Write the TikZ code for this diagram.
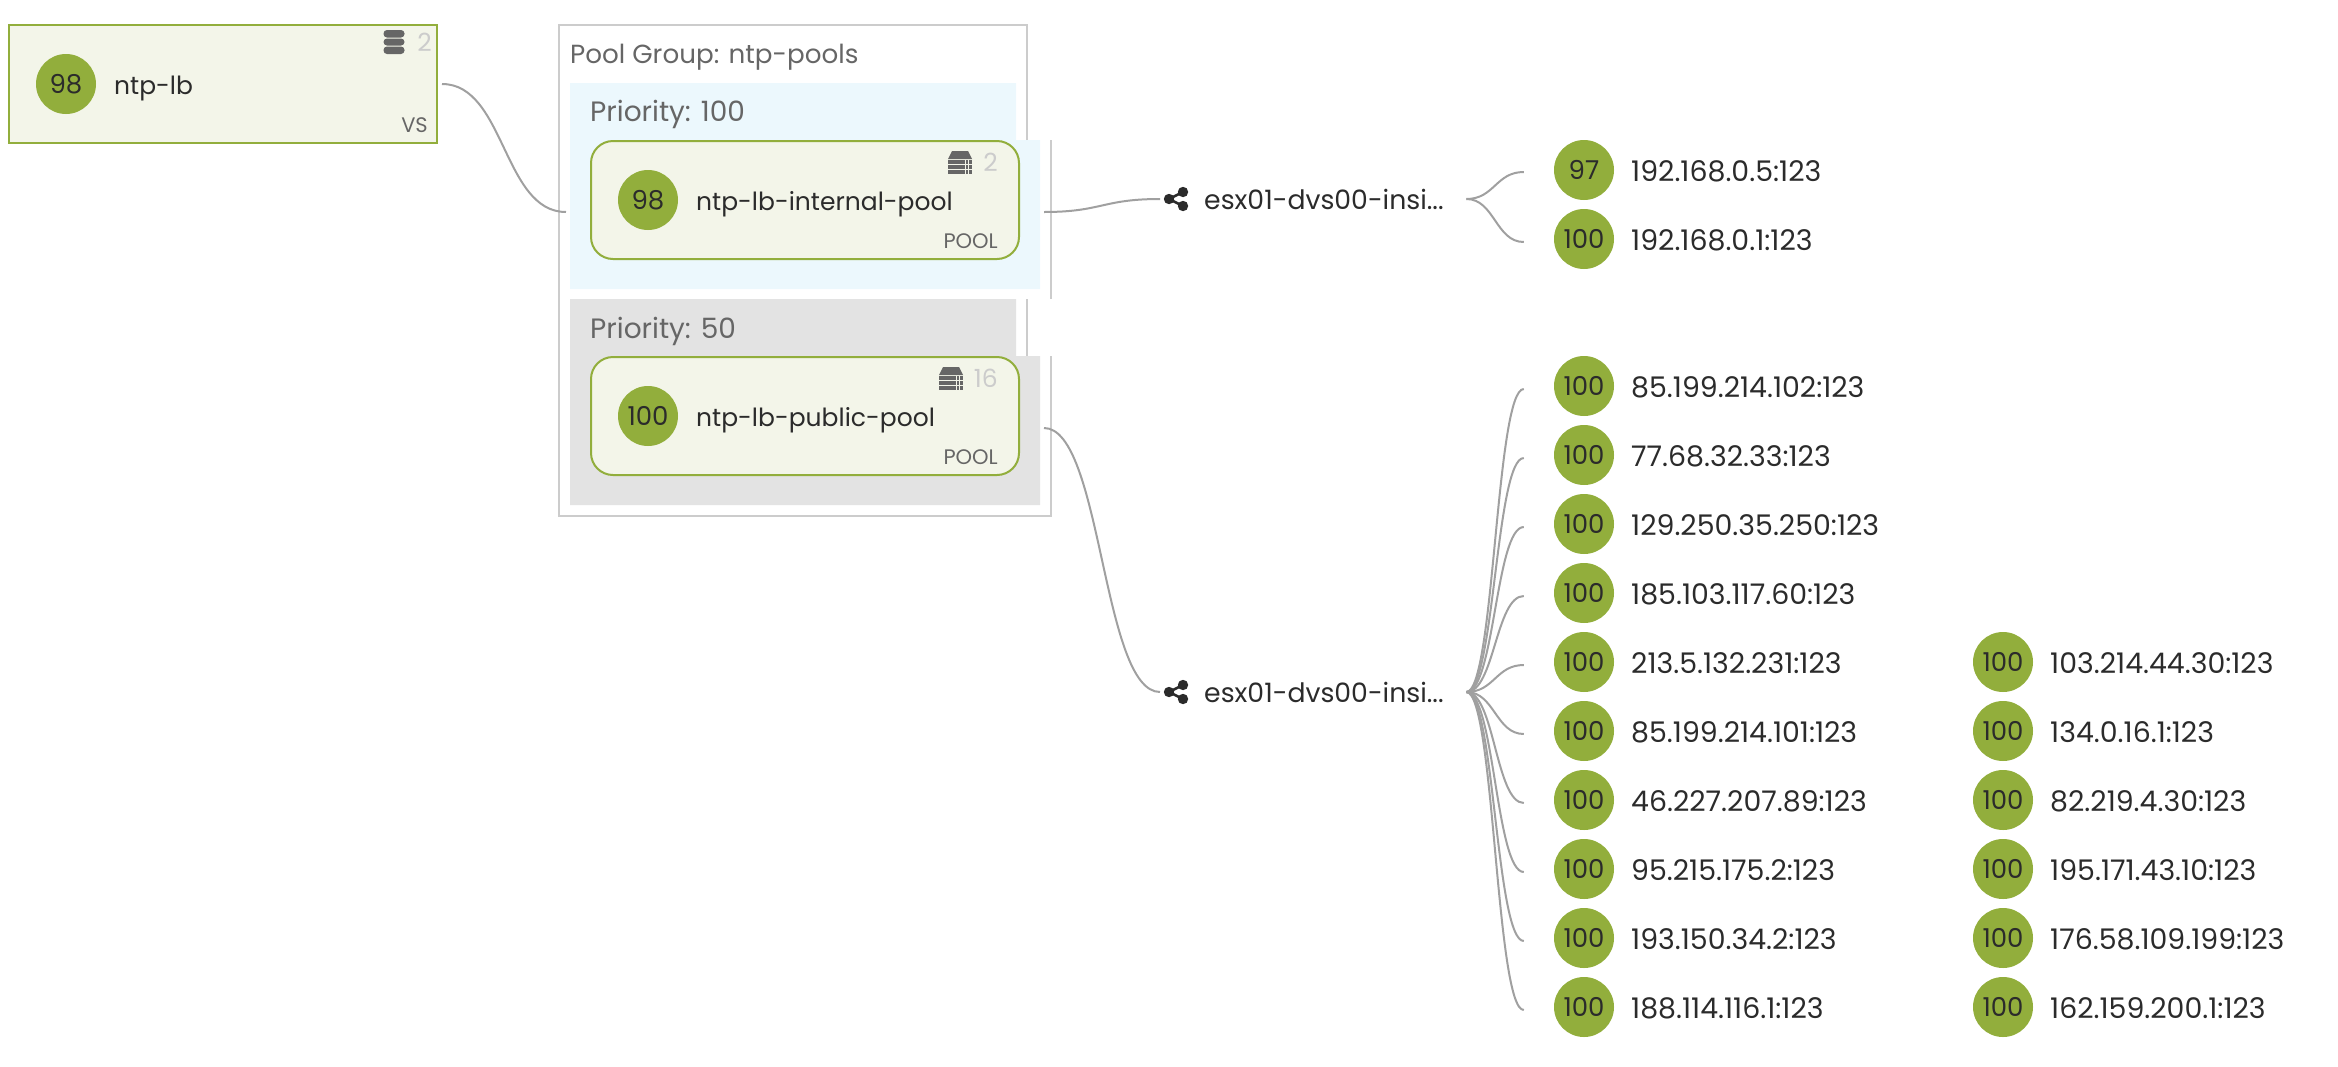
\documentclass[tikz,border=0pt]{standalone}
\usepackage{fontspec}
\setmainfont{Poppins}
\definecolor{healthgreen}{HTML}{92AE3C}
\definecolor{cardfill}{HTML}{F3F5E9}
\definecolor{bandblue}{HTML}{ECF8FD}
\definecolor{bandgray}{HTML}{E3E3E3}
\definecolor{framegray}{HTML}{CCCCCC}
\definecolor{linkgray}{HTML}{A0A0A0}
\definecolor{textdark}{HTML}{2B2B2B}
\definecolor{textgray}{HTML}{666666}

\begin{document}
\begin{tikzpicture}[
  x=1pt,
  y=-1pt,
  every node/.style={inner sep=0pt,text=textdark},
  health node/.style={circle,fill=healthgreen,minimum size=60pt,font=\fontsize{26}{28}\selectfont},
  vs node/.style={rectangle,draw=healthgreen,line width=2pt,fill=cardfill,minimum width=428pt,minimum height=118pt},
  pool node/.style={vs node,rounded corners=22pt},
  name label/.style={anchor=base west,font=\fontsize{25}{28}\selectfont},
  ip label/.style={anchor=base west,font=\fontsize{28.4}{30}\selectfont},
  net label/.style={anchor=west,text width=262pt,font=\fontsize{26.7}{28}\selectfont},
  kind label/.style={anchor=base east,text=textgray,font=\fontsize{21}{23}\selectfont},
  count label/.style={anchor=base east,text=framegray,font=\fontsize{25}{28}\selectfont},
  group label/.style={anchor=base west,text=textgray,font=\fontsize{26.2}{28}\selectfont},
  prio label/.style={anchor=base west,text=textgray,font=\fontsize{28}{30}\selectfont},
  frame line/.style={draw=framegray,line width=2pt},
  link line/.style={draw=linkgray,line width=2pt},
  link/.style={out=0,in=180,distance=#1},
  db icon/.pic={
    \fill[textgray,rounded corners=3.5pt] (-10.5,-12) rectangle (10.5,-4.5);
    \fill[textgray,rounded corners=3.5pt] (-10.5,-3.5) rectangle (10.5,3.5);
    \fill[textgray,rounded corners=3.5pt] (-10.5,4.5) rectangle (10.5,12);
  },
  rack icon/.pic={
    \fill[textgray] (-8,-11) -- (8,-11) -- (12,-3) -- (-12,-3) -- cycle;
    \fill[textgray] (-12,-2) rectangle (12,2);
    \fill[textgray] (-12,3) rectangle (12,7);
    \fill[textgray] (-12,8) rectangle (12,12);
    \draw[cardfill,line width=0.7pt] (5,-2) -- (5,12);
    \draw[cardfill,line width=0.7pt] (8,-2) -- (8,12);
  },
  share icon/.pic={
    \draw[textdark,line width=2.6pt] (7,-7) -- (-7,0) -- (7,7);
    \fill[textdark] (-7,0) circle (5.2pt);
    \fill[textdark] (7,-7) circle (5.2pt);
    \fill[textdark] (7,7) circle (5.2pt);
  },
]
\useasboundingbox (0,0) rectangle (2338,1066);

\fill[bandblue] (570,83) -- (1016,83) -- (1016,140) -- (1040,140) -- (1040,289) -- (570,289) -- cycle;
\fill[bandgray] (570,299) -- (1016,299) -- (1016,356) -- (1040,356) -- (1040,505) -- (570,505) -- cycle;
\draw[frame line] (1027,140) -- (1027,25) -- (559,25) -- (559,516) -- (1051,516) -- (1051,356);
\draw[frame line] (1051,140) -- (1051,299);
\draw[frame line] (1027,299) -- (1027,356);

\node[group label] (grouptitle) at (570,63) {Pool Group: ntp-pools};
\node[prio label] (prio1) at (590,121) {Priority: 100};
\node[prio label] (prio2) at (590,338) {Priority: 50};

\node[vs node] (vs) at (223,84) {};
\node[health node] (vshealth) at (66,84) {98};
\node[name label] (vsname) at (114,94) {ntp-lb};
\node[kind label] (vskind) at (428,132) {VS};
\node[count label] (vscount) at (432,51) {2};
\pic at (394,42) {db icon};

\node[pool node] (intpool) at (805,200) {};
\node[health node] (inthealth) at (648,200) {98};
\node[name label] (intname) at (696,210) {ntp-lb-internal-pool};
\node[kind label] (intkind) at (998,248) {POOL};
\node[count label] (intcount) at (998,171) {2};
\pic at (960,162) {rack icon};

\node[pool node] (pubpool) at (805,416) {};
\node[health node] (pubhealth) at (648,416) {100};
\node[name label] (pubname) at (696,426) {ntp-lb-public-pool};
\node[kind label] (pubkind) at (998,464) {POOL};
\node[count label] (pubcount) at (998,387) {16};
\pic at (951,378) {rack icon};

\pic at (1176,199) {share icon};
\node[net label] (net1) at (1204,199) {esx01-dvs00-insi...};
\pic at (1176,692) {share icon};
\node[net label] (net2) at (1204,692) {esx01-dvs00-insi...};

\node[health node] (a1) at (1584,170) {97};
\node[ip label] (a1ip) at (1631,181) {192.168.0.5:123};
\node[health node] (a2) at (1584,239) {100};
\node[ip label] (a2ip) at (1631,250) {192.168.0.1:123};

\node[health node] (b1) at (1584,386) {100};
\node[ip label] (b1ip) at (1631,397) {85.199.214.102:123};
\node[health node] (b2) at (1584,455) {100};
\node[ip label] (b2ip) at (1631,466) {77.68.32.33:123};
\node[health node] (b3) at (1584,524) {100};
\node[ip label] (b3ip) at (1631,535) {129.250.35.250:123};
\node[health node] (b4) at (1584,593) {100};
\node[ip label] (b4ip) at (1631,604) {185.103.117.60:123};
\node[health node] (b5) at (1584,662) {100};
\node[ip label] (b5ip) at (1631,673) {213.5.132.231:123};
\node[health node] (b6) at (1584,731) {100};
\node[ip label] (b6ip) at (1631,742) {85.199.214.101:123};
\node[health node] (b7) at (1584,800) {100};
\node[ip label] (b7ip) at (1631,811) {46.227.207.89:123};
\node[health node] (b8) at (1584,869) {100};
\node[ip label] (b8ip) at (1631,880) {95.215.175.2:123};
\node[health node] (b9) at (1584,938) {100};
\node[ip label] (b9ip) at (1631,949) {193.150.34.2:123};
\node[health node] (b10) at (1584,1007) {100};
\node[ip label] (b10ip) at (1631,1018) {188.114.116.1:123};

\node[health node] (c1) at (2003,662) {100};
\node[ip label] (c1ip) at (2050,673) {103.214.44.30:123};
\node[health node] (c2) at (2003,731) {100};
\node[ip label] (c2ip) at (2050,742) {134.0.16.1:123};
\node[health node] (c3) at (2003,800) {100};
\node[ip label] (c3ip) at (2050,811) {82.219.4.30:123};
\node[health node] (c4) at (2003,869) {100};
\node[ip label] (c4ip) at (2050,880) {195.171.43.10:123};
\node[health node] (c5) at (2003,938) {100};
\node[ip label] (c5ip) at (2050,949) {176.58.109.199:123};
\node[health node] (c6) at (2003,1007) {100};
\node[ip label] (c6ip) at (2050,1018) {162.159.200.1:123};

\draw[link line] ([xshift=4pt]vs.east) to[link=63pt] ([shift={(-24,12)}]intpool.west);
\draw[link line] ([shift={(24,12)}]intpool.east) to[link=58pt] ([xshift=-44pt]net1.west);
\draw[link line] ([shift={(24,12)}]pubpool.east) to[link=58pt] ([xshift=-44pt]net2.west);
\draw[link line] (net1.east) to[link=28pt] ([shift={(-30,2)}]a1.west);
\draw[link line] (net1.east) to[link=28pt] ([shift={(-30,3)}]a2.west);
\draw[link line] (net2.east) to[link=28pt] ([shift={(-30,3)}]b1.west);
\draw[link line] (net2.east) to[link=28pt] ([shift={(-30,3)}]b2.west);
\draw[link line] (net2.east) to[link=28pt] ([shift={(-30,3)}]b3.west);
\draw[link line] (net2.east) to[link=28pt] ([shift={(-30,3)}]b4.west);
\draw[link line] (net2.east) to[link=28pt] ([shift={(-30,3)}]b5.west);
\draw[link line] (net2.east) to[link=28pt] ([shift={(-30,3)}]b6.west);
\draw[link line] (net2.east) to[link=28pt] ([shift={(-30,3)}]b7.west);
\draw[link line] (net2.east) to[link=28pt] ([shift={(-30,3)}]b8.west);
\draw[link line] (net2.east) to[link=28pt] ([shift={(-30,3)}]b9.west);
\draw[link line] (net2.east) to[link=28pt] ([shift={(-30,3)}]b10.west);
\end{tikzpicture}
\end{document}
